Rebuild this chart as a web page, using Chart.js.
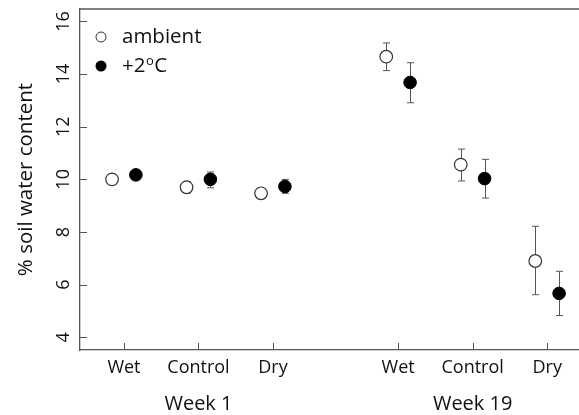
<!DOCTYPE html>
<html>
<head>
<meta charset="utf-8">
<script src="https://cdn.jsdelivr.net/npm/chart.js@4.4.0/dist/chart.umd.min.js"></script>
<style>
  html, body { margin: 0; padding: 0; background: #fff; overflow: hidden; }
  #wrap { width: 579px; height: 415px; }
</style>
</head>
<body>
<div id="wrap"><canvas id="soil"></canvas></div>
<script>
const tickPos = [1, 2, 3, 4.68, 5.68, 6.68];
const tickLabels = ['Wet', 'Control', 'Dry', 'Wet', 'Control', 'Dry'];
const weekPos = [2, 5.68];
const weekLabels = ['Week 1', 'Week 19'];
const yTicks = [4, 6, 8, 10, 12, 14, 16];

// ambient
const ambientX = [0.84, 1.84, 2.84, 4.52, 5.52, 6.52];
const ambientY = [10.0, 9.70, 9.47, 14.66, 10.56, 6.90];
const ambientLo = [9.95, 9.48, 9.40, 14.13, 9.94, 5.62];
const ambientHi = [10.05, 9.92, 9.55, 15.18, 11.15, 8.22];

// +2oC
const warmX = [1.16, 2.16, 3.16, 4.84, 5.84, 6.84];
const warmY = [10.17, 10.0, 9.73, 13.68, 10.03, 5.67];
const warmLo = [10.07, 9.68, 9.47, 12.91, 9.29, 4.83];
const warmHi = [10.27, 10.28, 10.0, 14.43, 10.76, 6.51];

const FONT = 'Open Sans';
const axisColor = '#555';
const textColor = '#111';

function toPoints(xs, ys, lo, hi) {
    return xs.map((x, i) => ({ x: x, y: ys[i], lo: lo[i], hi: hi[i] }));
}

// error bars, drawn under the points
const errorBars = {
    id: 'errorBars',
    beforeDatasetsDraw(chart) {
        const { ctx, scales: { x, y } } = chart;
        ctx.save();
        ctx.strokeStyle = '#555';
        ctx.lineWidth = 1;
        chart.data.datasets.forEach(ds => {
            ds.data.forEach(p => {
                const px = Math.round(x.getPixelForValue(p.x)) + 0.5;
                const top = y.getPixelForValue(p.hi);
                const bot = y.getPixelForValue(p.lo);
                ctx.beginPath();
                ctx.moveTo(px, top);
                ctx.lineTo(px, bot);
                ctx.moveTo(px - 3.5, top);
                ctx.lineTo(px + 3.5, top);
                ctx.moveTo(px - 3.5, bot);
                ctx.lineTo(px + 3.5, bot);
                ctx.stroke();
            });
        });
        ctx.restore();
    }
};

// top line, inward ticks and the legend
const frame = {
    id: 'frame',
    afterDraw(chart) {
        const { ctx, chartArea: a, scales: { x, y } } = chart;
        ctx.save();
        ctx.strokeStyle = axisColor;
        ctx.lineWidth = 1.3;
        ctx.beginPath();
        ctx.moveTo(a.left, a.top);
        ctx.lineTo(chart.width, a.top);
        ctx.stroke();

        ctx.lineWidth = 1;
        ctx.beginPath();
        tickPos.forEach(v => {
            const px = Math.round(x.getPixelForValue(v)) + 0.5;
            ctx.moveTo(px, a.bottom);
            ctx.lineTo(px, a.bottom - 7);
        });
        yTicks.forEach(v => {
            const py = Math.round(y.getPixelForValue(v)) + 0.5;
            ctx.moveTo(a.left, py);
            ctx.lineTo(a.left + 7, py);
        });
        ctx.stroke();

        // legend
        const lx = a.left + 21;
        const ly1 = a.top + 28;
        const ly2 = a.top + 57;
        ctx.beginPath();
        ctx.arc(lx, ly1, 5, 0, Math.PI * 2);
        ctx.fillStyle = '#fff';
        ctx.fill();
        ctx.strokeStyle = '#333';
        ctx.lineWidth = 1;
        ctx.stroke();
        ctx.beginPath();
        ctx.arc(lx, ly2, 5.5, 0, Math.PI * 2);
        ctx.fillStyle = '#000';
        ctx.fill();

        ctx.fillStyle = textColor;
        ctx.textBaseline = 'middle';
        ctx.textAlign = 'left';
        ctx.font = '20.5px "' + FONT + '"';
        ctx.fillText('ambient', lx + 21, ly1);
        ctx.fillText('+2', lx + 21, ly2);
        let tx = lx + 21 + ctx.measureText('+2').width;
        ctx.font = '13px "' + FONT + '"';
        ctx.fillText('o', tx + 0.5, ly2 - 5);
        tx += ctx.measureText('o').width + 1;
        ctx.font = '20.5px "' + FONT + '"';
        ctx.fillText('C', tx, ly2);
        ctx.restore();
    }
};

const ctxEl = document.getElementById('soil');

new Chart(ctxEl, {
    type: 'scatter',
    data: {
        datasets: [
            {
                label: 'ambient',
                data: toPoints(ambientX, ambientY, ambientLo, ambientHi),
                backgroundColor: '#fff',
                borderColor: '#333',
                borderWidth: 1.2,
                pointRadius: 6.3,
            },
            {
                label: '+2oC',
                data: toPoints(warmX, warmY, warmLo, warmHi),
                backgroundColor: '#000',
                borderColor: '#000',
                borderWidth: 1,
                pointRadius: 6.3,
            }
        ]
    },
    options: {
        responsive: true,
        maintainAspectRatio: false,
        animation: false,
        layout: { autoPadding: false, padding: { top: 9, left: 0, right: 0, bottom: 0 } },
        plugins: {
            legend: { display: false },
            tooltip: { enabled: false }
        },
        scales: {
            x: {
                type: 'linear',
                position: 'bottom',
                min: 0.41,
                max: 7.107,
                weight: 0,
                grid: { display: false },
                border: { display: true, color: axisColor, width: 1.3 },
                afterBuildTicks: s => { s.ticks = tickPos.map(v => ({ value: v })); },
                afterFit: s => { s.height = 30; s.paddingLeft = 0; s.paddingRight = 0; },
                ticks: {
                    autoSkip: false,
                    maxRotation: 0,
                    padding: -1,
                    color: textColor,
                    font: { family: FONT, size: 18 },
                    callback: (v, i) => tickLabels[i]
                }
            },
            week: {
                type: 'linear',
                position: 'bottom',
                axis: 'x',
                min: 0.41,
                max: 7.107,
                weight: 1,
                grid: { display: false },
                border: { display: false },
                afterBuildTicks: s => { s.ticks = weekPos.map(v => ({ value: v })); },
                afterFit: s => { s.height = 35; s.paddingLeft = 0; s.paddingRight = 0; },
                ticks: {
                    autoSkip: false,
                    maxRotation: 0,
                    padding: 4,
                    color: textColor,
                    font: { family: FONT, size: 20 },
                    callback: (v, i) => weekLabels[i]
                }
            },
            y: {
                min: 3.52,
                max: 16.47,
                grid: { display: false },
                border: { display: true, color: axisColor, width: 1.3 },
                afterBuildTicks: s => { s.ticks = yTicks.map(v => ({ value: v })); },
                afterFit: s => { s.width = 80; s.paddingTop = 0; s.paddingBottom = 0; },
                ticks: {
                    minRotation: 90,
                    maxRotation: 90,
                    crossAlign: 'center',
                    padding: -2,
                    color: textColor,
                    font: { family: FONT, size: 18 }
                },
                title: {
                    display: true,
                    text: '% soil water content',
                    color: textColor,
                    font: { family: FONT, size: 20.5 },
                    padding: { top: 14, bottom: 0 }
                }
            }
        }
    },
    plugins: [errorBars, frame]
});
</script>
</body>
</html>
